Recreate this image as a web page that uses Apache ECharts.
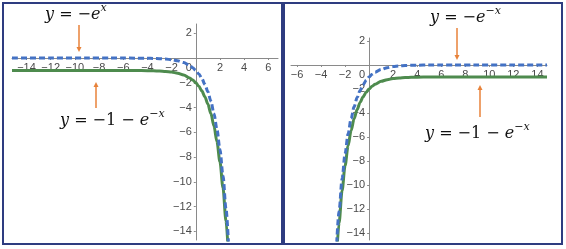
<!DOCTYPE html>
<html><head><meta charset="utf-8">
<script src="https://cdn.jsdelivr.net/npm/echarts@6/dist/echarts.min.js"></script>
<style>html,body{margin:0;padding:0;background:#fff}#c{width:566px;height:249px}</style>
</head><body><div id="c"></div>
<script>
// Left panel: dashed y = -e^x, solid y = -1 - e^x
const leftX      = [-15.2, -12, -9, -7, -6, -5, -4, -3.5, -3, -2.5, -2, -1.5, -1, -0.5, -0.25, 0, 0.25, 0.5, 0.75, 1, 1.25, 1.5, 1.75, 2, 2.25, 2.5, 2.7];
const leftDashed = [0, 0, -0.0001, -0.001, -0.0025, -0.007, -0.018, -0.03, -0.05, -0.082, -0.135, -0.223, -0.368, -0.607, -0.78, -1, -1.28, -1.65, -2.12, -2.72, -3.49, -4.48, -5.75, -7.39, -9.49, -12.18, -14.88];
const leftSolid  = [-1, -1, -1.0001, -1.001, -1.0025, -1.007, -1.018, -1.03, -1.05, -1.082, -1.135, -1.223, -1.368, -1.607, -1.78, -2, -2.28, -2.65, -3.12, -3.72, -4.49, -5.48, -6.75, -8.39, -10.49, -13.18, -15.88];
// Right panel: dashed y = -e^-x, solid y = -1 - e^-x
const rightX      = [-2.7, -2.5, -2.25, -2, -1.75, -1.5, -1.25, -1, -0.75, -0.5, -0.25, 0, 0.25, 0.5, 1, 1.5, 2, 2.5, 3, 3.5, 4, 5, 6, 7, 9, 12, 14.8];
const rightDashed = [-14.88, -12.18, -9.49, -7.39, -5.75, -4.48, -3.49, -2.72, -2.12, -1.65, -1.28, -1, -0.78, -0.607, -0.368, -0.223, -0.135, -0.082, -0.05, -0.03, -0.018, -0.007, -0.0025, -0.001, -0.0001, 0, 0];
const rightSolid  = [-15.88, -13.18, -10.49, -8.39, -6.75, -5.48, -4.49, -3.72, -3.12, -2.65, -2.28, -2, -1.78, -1.607, -1.368, -1.223, -1.135, -1.082, -1.05, -1.03, -1.018, -1.007, -1.0025, -1.001, -1.0001, -1, -1];

const leftXTicks  = [-14, -12, -10, -8, -6, -4, -2, 0, 2, 4, 6];
const rightXTicks = [-6, -4, -2, 0, 2, 4, 6, 8, 10, 12, 14];
const yTicks      = [-14, -12, -10, -8, -6, -4, -2, 2];

const AX = '#8a8a8a', LBL = '#4a4a4a', BLUE = '#4472C4', GREEN = '#4E8B4E', ORANGE = '#E8823A', NAVY = '#2E3C80';
const fmt = v => v === 0 ? '{z|0}' : String(v).replace('-', '\u2212');
const lblBase = {fontSize: 11, color: LBL, fontFamily: 'Liberation Sans, Arial, sans-serif'};

const grids = [
  {left: 12, top: 24, width: 266, height: 216},
  {left: 291, top: 38, width: 256, height: 202}
];
const xr = [[-15.2, 6.8], [-6.5, 14.8]];
const yr = [[-14.7, 2.75], [-14.6, 2.25]];

function xAxis(gi, ticks) {
  const [min, max] = xr[gi], [ymin, ymax] = yr[gi];
  const off = -grids[gi].height * (0 - ymin) / (ymax - ymin);
  return {gridIndex: gi, type: 'value', min, max, position: 'bottom', offset: off,
    axisLine: {onZero: false, lineStyle: {color: AX, width: 1}},
    axisTick: {show: true, length: 2, customValues: ticks, lineStyle: {color: AX}},
    axisLabel: Object.assign({customValues: ticks, margin: 4, formatter: fmt,
      rich: {z: Object.assign({padding: [0, 14, 0, 0]}, lblBase)}}, lblBase),
    splitLine: {show: false}};
}
function yAxis(gi) {
  const [min, max] = yr[gi], [xmin, xmax] = xr[gi];
  const off = -grids[gi].width * (0 - xmin) / (xmax - xmin);
  return {gridIndex: gi, type: 'value', min, max, position: 'left', offset: off,
    axisLine: {onZero: false, lineStyle: {color: AX, width: 1}},
    axisTick: {show: true, length: 2, customValues: yTicks, lineStyle: {color: AX}},
    axisLabel: Object.assign({customValues: yTicks, margin: 4, formatter: fmt}, lblBase),
    splitLine: {show: false}};
}
function pairs(xs, ys) { return xs.map((x, i) => [x, ys[i]]); }
function series(gi, xs, ys, dashed) {
  return {type: 'line', xAxisIndex: gi, yAxisIndex: gi, data: pairs(xs, ys), showSymbol: false,
    smooth: 0.3, smoothMonotone: 'x', silent: true, z: dashed ? 3 : 2,
    lineStyle: {color: dashed ? BLUE : GREEN, width: 3, type: dashed ? [6, 3] : 'solid'}};
}
function arrow(x, y1, y2) {
  const d = y2 > y1 ? 1 : -1;
  return {type: 'group', children: [
    {type: 'line', shape: {x1: x, y1: y1, x2: x, y2: y2 - d * 3}, style: {stroke: ORANGE, lineWidth: 1.5}},
    {type: 'polygon', shape: {points: [[x - 2.5, y2 - d * 5], [x + 2.5, y2 - d * 5], [x, y2]]}, style: {fill: ORANGE}}
  ]};
}
const MF = 'DejaVu Serif, serif';
const rich = {
  i: {fontSize: 16, fontStyle: 'italic', fontFamily: MF, color: '#111', lineHeight: 24},
  n: {fontSize: 16, fontFamily: MF, color: '#111', lineHeight: 24},
  s: {fontSize: 11, fontStyle: 'italic', fontFamily: MF, color: '#111', lineHeight: 14, verticalAlign: 'top'}
};
function mtext(x, y, t) {
  return {type: 'text', x, y, style: {text: t, rich, fill: '#111'}};
}

const chart = echarts.init(document.getElementById('c'), null, {renderer: 'canvas'});
chart.setOption({
  animation: false,
  backgroundColor: '#fff',
  grid: grids,
  xAxis: [xAxis(0, leftXTicks), xAxis(1, rightXTicks)],
  yAxis: [yAxis(0), yAxis(1)],
  series: [
    series(0, leftX, leftSolid, false), series(0, leftX, leftDashed, true),
    series(1, rightX, rightSolid, false), series(1, rightX, rightDashed, true)
  ],
  graphic: [
    {type: 'rect', shape: {x: 3, y: 3, width: 279, height: 241}, style: {fill: 'none', stroke: NAVY, lineWidth: 2}},
    {type: 'rect', shape: {x: 284, y: 3, width: 278, height: 241}, style: {fill: 'none', stroke: NAVY, lineWidth: 2}},
    mtext(45, 3, '{i|y}{n| = \u2212}{i|e}{s|x}'),
    mtext(60, 109, '{i|y}{n| = \u22121 \u2212 }{i|e}{s|\u2212x}'),
    mtext(430, 6, '{i|y}{n| = \u2212}{i|e}{s|\u2212x}'),
    mtext(425, 122, '{i|y}{n| = \u22121 \u2212 }{i|e}{s|\u2212x}'),
    arrow(79, 25, 52), arrow(96, 108, 82), arrow(457, 28, 60), arrow(480, 117, 85)
  ]
});
</script></body></html>
